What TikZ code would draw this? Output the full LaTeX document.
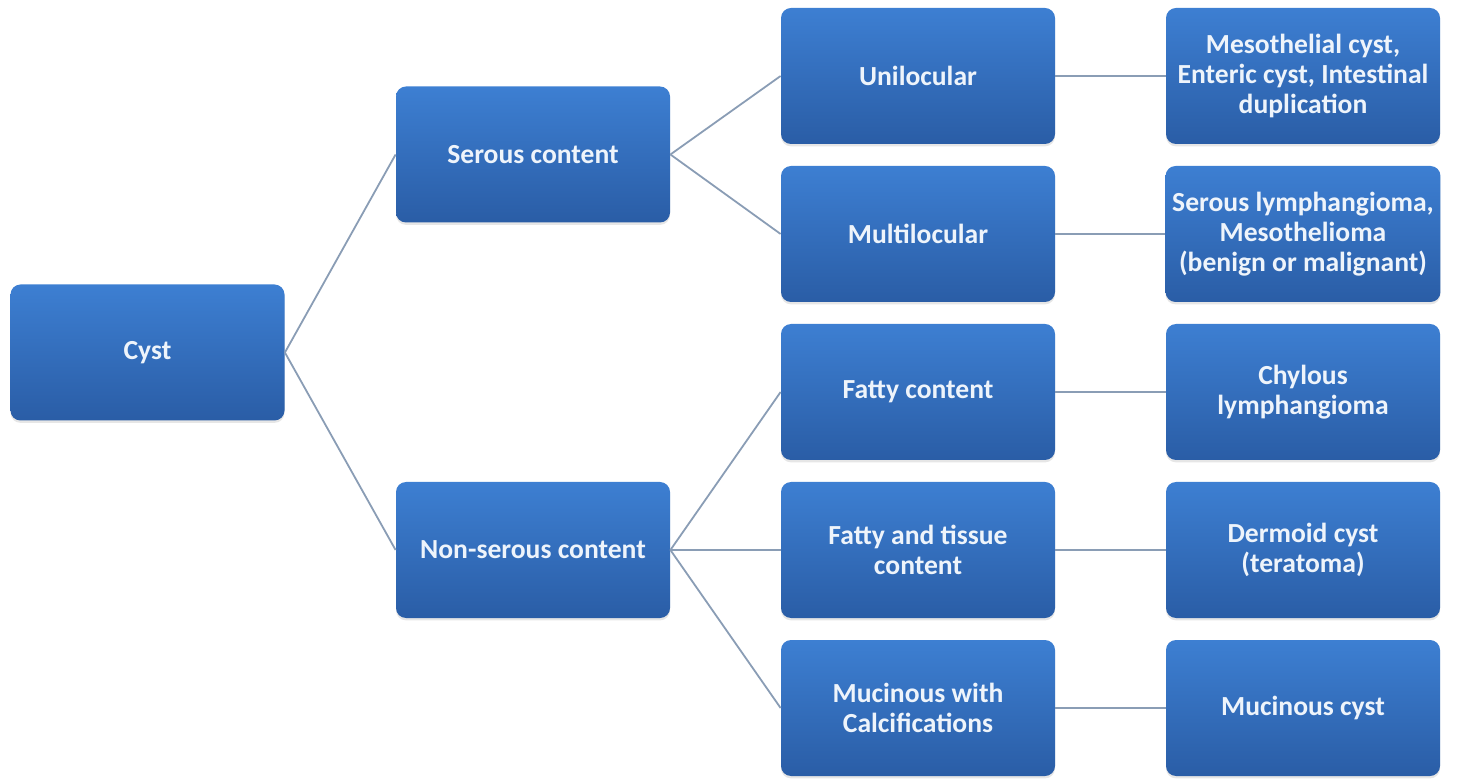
\documentclass[tikz,border=0pt]{standalone}
\usepackage{fontspec}
\setmainfont{Carlito}
\usetikzlibrary{shadows}
\definecolor{boxtop}{HTML}{3D7FD2}
\definecolor{boxbot}{HTML}{2A5DA6}
\definecolor{linkcol}{HTML}{8A9DB5}
\definecolor{txtcol}{HTML}{EEF4FB}
\begin{document}
\begin{tikzpicture}[x=0.5pt, y=-0.5pt,
    cbox/.style={rectangle, rounded corners=5pt, minimum width=137pt, minimum height=68pt,
        top color=boxtop, bottom color=boxbot, draw=none, text=txtcol, align=center,
        font=\fontsize{13.8}{15}\selectfont\bfseries,
        drop shadow={opacity=0.2, shadow xshift=0pt, shadow yshift=-1.2pt}},
    link/.style={draw=linkcol, line width=0.9pt}]
        \useasboundingbox (0,0) rectangle (1470,779);
        % Root
        \node[cbox] (cyst) at (147.5, 352.5) {Cyst};
        
        % Content type
        \node[cbox] (serous) at (533, 154.5) {Serous content};
        \node[cbox] (nonserous) at (533, 550) {Non-serous content};
        
        % Appearance
        \node[cbox] (uni) at (918, 76) {Unilocular};
        \node[cbox] (multi) at (918, 234) {Multilocular};
        \node[cbox] (fatty) at (918, 392) {Fatty content};
        \node[cbox] (tissue) at (918, 550) {Fatty and tissue\\content};
        \node[cbox] (mucin) at (918, 708) {Mucinous with\\Calcifications};
        
        % Diagnosis
        \node[cbox] (meso) at (1303, 76) {Mesothelial cyst,\\Enteric cyst, Intestinal\\duplication};
        \node[cbox] (lymph) at (1303, 234) {Serous lymphangioma,\\Mesothelioma\\(benign or malignant)};
        \node[cbox] (chyl) at (1303, 392) {Chylous\\lymphangioma};
        \node[cbox] (dermoid) at (1303, 550) {Dermoid cyst\\(teratoma)};
        \node[cbox] (mucyst) at (1303, 708) {Mucinous cyst};
        
        % Links
        \draw[link] (cyst.east) -- (serous.west);
        \draw[link] (cyst.east) -- (nonserous.west);
        \draw[link] (serous.east) -- (uni.west);
        \draw[link] (serous.east) -- (multi.west);
        \draw[link] (nonserous.east) -- (fatty.west);
        \draw[link] (nonserous.east) -- (tissue.west);
        \draw[link] (nonserous.east) -- (mucin.west);
        \draw[link] (uni.east) -- (meso.west);
        \draw[link] (multi.east) -- (lymph.west);
        \draw[link] (fatty.east) -- (chyl.west);
        \draw[link] (tissue.east) -- (dermoid.west);
        \draw[link] (mucin.east) -- (mucyst.west);
    \end{tikzpicture}
\end{document}
